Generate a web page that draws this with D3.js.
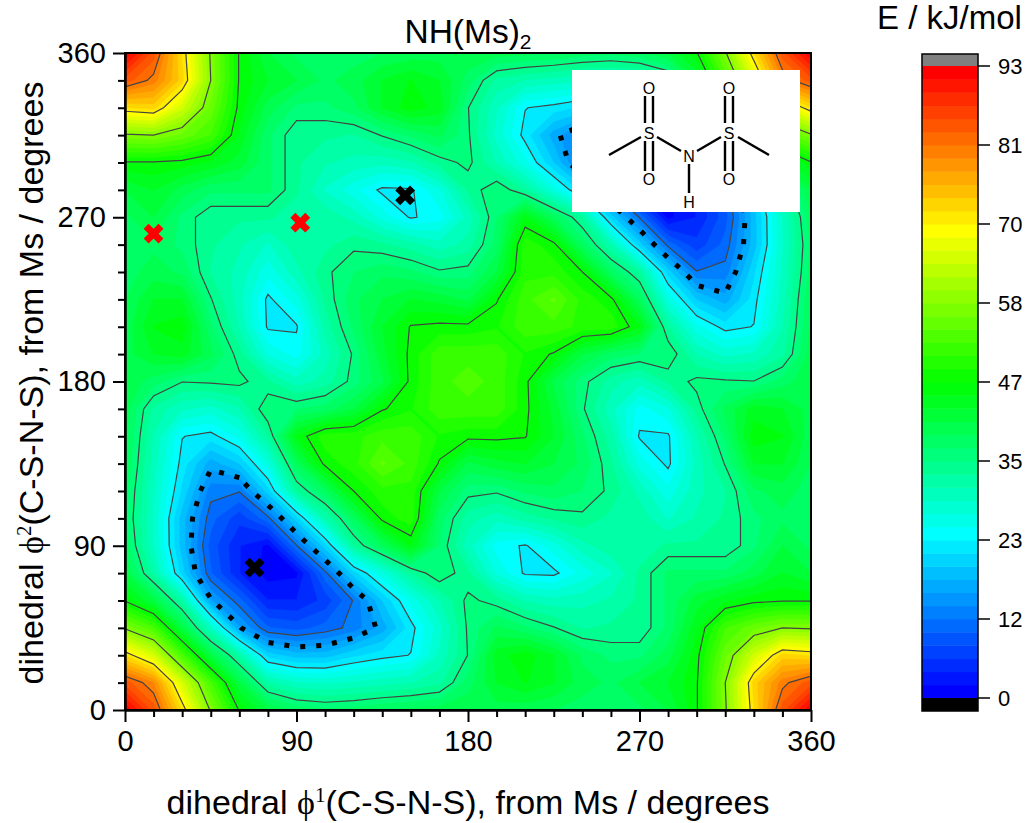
<!DOCTYPE html>
<html>
<head>
<meta charset="utf-8">
<title>NH(Ms)2</title>
<script src="https://cdnjs.cloudflare.com/ajax/libs/d3/7.8.5/d3.min.js"></script>
<style>
  html, body { margin: 0; padding: 0; background: #fff; }
  svg { display: block; font-family: "Liberation Sans", Arial, sans-serif; }
</style>
</head>
<body>
<svg id="chart" width="1028" height="823"></svg>
<script>
// energy in kJ/mol on a 15 degree grid, one row per phi2 (0..360), columns phi1 (0..360)
const energyRows = [
  [93.5,85,72,58,46.5,41,38.5,37.5,38,39,39.5,40,40.5,40,39.5,39,38,37.5,38.5,41,46.5,58,72,85,93.5],
  [85,80,65.5,53,41,32,29.3,29,29.5,30.3,31.1,32.5,38,43,45,43,40,38.5,41,43,46.5,58.5,73,81,85],
  [72,65.5,53,41,32,20.5,18.5,18.5,21,22.5,23.5,29.6,35.2,44,46,43,38.5,36.5,36.5,40,46,56,65,73,72],
  [58,53,41,29.5,16,10,9,10.5,12.5,16.5,22.5,28.5,35.5,39.5,37.5,35.3,33,33.5,33.5,37.5,44.5,52.5,56,58.5,58],
  [46.5,41,32,16,10.5,4,4,6.5,11.9,19.5,26,31,35.8,34,31,30,30.5,31.5,33.5,37.5,42,44.5,46,46.5,46.5],
  [41,32,20.5,10,4,1,1.5,11,20.5,27,33,37,33.5,27,23,22.8,26,29,33.5,37.5,37.5,37.5,40,43,41],
  [38.5,29.3,18.5,9,4,1.5,11.5,20.5,33,39,45,37,30,24.5,23.1,26.5,30.5,32.5,32,33.5,33.5,33.5,36.5,41,38.5],
  [37.5,29,18.5,10.5,6.5,11,20.5,31.2,38.5,47.5,50,38,32,30,32,33.5,34.5,32.5,32.5,29,31.5,33.5,36.5,38.5,37.5],
  [38,29.5,21,12.5,11.9,20.5,33,38.5,46.8,50,50,41,36,35.5,37.5,38.5,37,34.5,30.5,26,30.5,33,38.5,40,38],
  [39,30.3,22.5,16.5,19.5,27,39,47.5,50,55,52,46.5,40.5,42.2,43,41,38.5,33.5,26.5,22.8,30,35.3,43,43,39],
  [39.5,31.1,23.5,22.5,26,33,45,50,50,52,52,48.5,47.5,47.5,47,43,37.5,32,23.1,23,31,37.5,46,45,39.5],
  [40,32.5,29.6,28.5,31,37,37,38,41,46.5,48.5,52,52,52,47.5,42.2,35.5,30,24.5,27,34,39.5,44,43,40],
  [40.5,38,35.2,35.5,35.8,33.5,30,32,36,40.5,47.5,52,53.5,52,47.5,40.5,36,32,30,33.5,35.8,35.5,35.2,38,40.5],
  [40,43,44,39.5,34,27,24.5,30,35.5,42.2,47.5,52,52,52,48.5,46.5,41,38,37,37,31,28.5,29.6,32.5,40],
  [39.5,45,46,37.5,31,23,23.1,32,37.5,43,47,47.5,47.5,48.5,52,52,50,50,45,33,26,22.5,23.5,31.1,39.5],
  [39,43,43,35.3,30,22.8,26.5,33.5,38.5,41,43,42.2,40.5,46.5,52,55,50,47.5,39,27,19.5,16.5,22.5,30.3,39],
  [38,40,38.5,33,30.5,26,30.5,34.5,37,38.5,37.5,35.5,36,41,50,50,46.8,38.5,33,20.5,11.9,12.5,21,29.5,38],
  [37.5,38.5,36.5,33.5,31.5,29,32.5,32.5,34.5,33.5,32,30,32,38,50,47.5,38.5,31.2,20.5,11,6.5,10.5,18.5,29,37.5],
  [38.5,41,36.5,33.5,33.5,33.5,32,32.5,30.5,26.5,23.1,24.5,30,37,45,39,33,20.5,11.5,1.5,4,9,18.5,29.3,38.5],
  [41,43,40,37.5,37.5,37.5,33.5,29,26,22.8,23,27,33.5,37,33,27,20.5,11,1.5,1,4,10,20.5,32,41],
  [46.5,46.5,46,44.5,42,37.5,33.5,31.5,30.5,30,31,34,35.8,31,26,19.5,11.9,6.5,4,4,10.5,16,32,41,46.5],
  [58,58.5,56,52.5,44.5,37.5,33.5,33.5,33,35.3,37.5,39.5,35.5,28.5,22.5,16.5,12.5,10.5,9,10,16,29.5,41,53,58],
  [72,73,65,56,46,40,36.5,36.5,38.5,43,46,44,35.2,29.6,23.5,22.5,21,18.5,18.5,20.5,32,41,53,65.5,72],
  [85,81,73,58.5,46.5,43,41,38.5,40,43,45,43,38,32.5,31.1,30.3,29.5,29,29.3,32,41,53,65.5,80,85],
  [93.5,85,72,58,46.5,41,38.5,37.5,38,39,39.5,40,40.5,40,39.5,39,38,37.5,38.5,41,46.5,58,72,85,93.5]
];
const gridStep = 15;

const majorTicks = [0, 90, 180, 270, 360];
const minorTicks = [15, 30, 45, 60, 75, 105, 120, 135, 150, 165, 195, 210, 225, 240, 255, 285, 300, 315, 330, 345];

const bandStep = 1.95;
const bandCount = 48;
const lineLevels = [11.7, 23.4, 35.1, 46.8, 58.5, 70.2, 81.9];
const dottedLevel = 15.6;
const barTicks = [0, 11.7, 23.4, 35.1, 46.8, 58.5, 70.2, 81.9, 93.6];
const barLabels = ['0', '12', '23', '35', '47', '58', '70', '81', '93'];

const stopBands = [0, 12, 23.5, 35, 47];
const stopColors = ['#0000ff', '#00ffff', '#00ff00', '#ffff00', '#ff0000'];

const blackMarks = [[68, 78], [147, 282]];
const redMarks = [[15, 261], [92, 267]];

const svg = d3.select('#chart');
const x = d3.scaleLinear().domain([0, 360]).range([125, 811]);
const y = d3.scaleLinear().domain([0, 360]).range([710, 53]);
const bandColor = d3.scaleLinear().domain(stopBands).range(stopColors).interpolate(d3.interpolateRgb);

// grid cell centres sit at i + 0.5 in d3.contours
const path = d3.geoPath(d3.geoTransform({
  point(px, py) {
    this.stream.point(x((px - 0.5) * gridStep), y((py - 0.5) * gridStep));
  }
}));
const contours = d3.contours().size([energyRows[0].length, energyRows.length]);
const flatEnergy = energyRows.flat();

svg.append('clipPath').attr('id', 'plotClip').append('rect')
  .attr('x', 125).attr('y', 53).attr('width', 686).attr('height', 657);

const plot = svg.append('g').attr('clip-path', 'url(#plotClip)');

// filled bands, lowest first
plot.append('rect').attr('x', 125).attr('y', 53).attr('width', 686).attr('height', 657)
  .attr('fill', bandColor(0));
const bandLevels = d3.range(1, bandCount).map(i => i * bandStep);
plot.selectAll('path.band')
  .data(contours.thresholds(bandLevels)(flatEnergy))
  .enter().append('path')
  .attr('class', 'band')
  .attr('d', path)
  .attr('fill', (d, i) => bandColor(i + 1))
  .attr('stroke', (d, i) => bandColor(i + 1))
  .attr('stroke-width', 0.3);

// contour lines
plot.selectAll('path.level')
  .data(contours.thresholds(lineLevels)(flatEnergy))
  .enter().append('path')
  .attr('class', 'level')
  .attr('d', path)
  .attr('fill', 'none')
  .attr('stroke', '#444')
  .attr('stroke-width', 1.2);

plot.selectAll('path.dotted')
  .data(contours.thresholds([dottedLevel])(flatEnergy))
  .enter().append('path')
  .attr('class', 'dotted')
  .attr('d', path)
  .attr('fill', 'none')
  .attr('stroke', '#000')
  .attr('stroke-width', 5)
  .attr('stroke-dasharray', '5 11');

// molecule inset
const inset = svg.append('g');
inset.append('rect').attr('x', 572).attr('y', 70).attr('width', 228).attr('height', 142).attr('fill', '#fff');
const bonds = [
  [609, 155, 641, 137], [657, 137, 681, 151], [697, 151, 721, 137], [738, 137, 769, 155],
  [689, 164, 689, 193],
  [645, 96, 645, 123], [653, 96, 653, 123], [645, 141, 645, 171], [653, 141, 653, 171],
  [725, 96, 725, 123], [733, 96, 733, 123], [725, 141, 725, 171], [733, 141, 733, 171]
];
inset.selectAll('line').data(bonds).enter().append('line')
  .attr('x1', d => d[0]).attr('y1', d => d[1]).attr('x2', d => d[2]).attr('y2', d => d[3])
  .attr('stroke', '#000').attr('stroke-width', 2.4);
const atoms = [
  ['O', 649, 88], ['O', 729, 88], ['S', 649, 133], ['S', 729, 133], ['O', 649, 179], ['O', 729, 179],
  ['N', 689, 156], ['H', 689, 202]
];
inset.selectAll('text').data(atoms).enter().append('text')
  .attr('x', d => d[1]).attr('y', d => d[2])
  .attr('text-anchor', 'middle').attr('dy', '0.36em')
  .attr('font-size', 16).text(d => d[0]);

// minima markers
const cross = d3.symbol().type(d3.symbolCross).size(245);
svg.selectAll('path.mark')
  .data(blackMarks.map(d => [d, '#000']).concat(redMarks.map(d => [d, '#ff0000'])))
  .enter().append('path')
  .attr('class', 'mark')
  .attr('d', cross)
  .attr('transform', d => `translate(${x(d[0][0])},${y(d[0][1])}) rotate(45)`)
  .attr('fill', d => d[1]);

// axes
function styleAxis(g) {
  g.selectAll('path, line').attr('stroke', '#000').attr('stroke-width', 2);
  g.selectAll('text').attr('font-size', 29).attr('fill', '#000').attr('font-family', '"Liberation Sans", Arial, sans-serif');
}
const frame = svg.append('g');
frame.append('g').attr('transform', 'translate(0,710)')
  .call(d3.axisBottom(x).tickValues(minorTicks).tickSize(7).tickSizeOuter(0).tickFormat(''))
  .call(styleAxis);
frame.append('g').attr('transform', 'translate(0,710)')
  .call(d3.axisBottom(x).tickValues(majorTicks).tickSize(12).tickSizeOuter(0).tickPadding(8))
  .call(styleAxis);
frame.append('g').attr('transform', 'translate(125,0)')
  .call(d3.axisLeft(y).tickValues(minorTicks).tickSize(7).tickSizeOuter(0).tickFormat(''))
  .call(styleAxis);
frame.append('g').attr('transform', 'translate(125,0)')
  .call(d3.axisLeft(y).tickValues(majorTicks).tickSize(12).tickSizeOuter(0).tickPadding(7))
  .call(styleAxis);
frame.append('rect').attr('x', 125).attr('y', 53).attr('width', 686).attr('height', 657)
  .attr('fill', 'none').attr('stroke', '#000').attr('stroke-width', 2);

// titles
const title = svg.append('text').attr('x', 468).attr('y', 43).attr('text-anchor', 'middle').attr('font-size', 33.5);
title.append('tspan').text('NH(Ms)');
title.append('tspan').attr('font-size', 21).attr('dy', 6).text('2');

function axisTitle(sel, sup) {
  sel.append('tspan').text('dihedral ');
  sel.append('tspan').attr('font-family', '"Liberation Serif", serif').text('\u03d5');
  sel.append('tspan').attr('font-size', 21).attr('dy', -12).attr('font-family', '"Liberation Serif", serif').text(sup);
  sel.append('tspan').attr('dy', 12).text('(C-S-N-S), from Ms / degrees');
}
svg.append('text').attr('x', 468).attr('y', 814).attr('text-anchor', 'middle').attr('font-size', 34)
  .call(axisTitle, '1');
svg.append('text').attr('transform', 'translate(43,383) rotate(-90)').attr('text-anchor', 'middle').attr('font-size', 34)
  .call(axisTitle, '2');

// colour bar
const barScale = d3.scaleLinear().domain([0, 93.6]).range([698, 66]);
const bar = svg.append('g');
bar.selectAll('rect.band').data(d3.range(bandCount)).enter().append('rect')
  .attr('class', 'band')
  .attr('x', 922).attr('width', 56)
  .attr('y', i => barScale((i + 1) * bandStep))
  .attr('height', i => barScale(i * bandStep) - barScale((i + 1) * bandStep) + 0.5)
  .attr('fill', i => bandColor(i));
bar.append('rect').attr('x', 922).attr('y', 54).attr('width', 56).attr('height', 12).attr('fill', '#808080');
bar.append('rect').attr('x', 922).attr('y', 698).attr('width', 56).attr('height', 13).attr('fill', '#000');
bar.append('rect').attr('x', 922).attr('y', 54).attr('width', 56).attr('height', 657)
  .attr('fill', 'none').attr('stroke', '#000').attr('stroke-width', 1.5);
bar.selectAll('line').data(barTicks).enter().append('line')
  .attr('x1', 978).attr('x2', 990)
  .attr('y1', d => barScale(d)).attr('y2', d => barScale(d))
  .attr('stroke', '#000').attr('stroke-width', 1.5);
bar.selectAll('text').data(barTicks).enter().append('text')
  .attr('x', 998).attr('y', d => barScale(d)).attr('dy', '0.36em')
  .attr('font-size', 22).text((d, i) => barLabels[i]);
svg.append('text').attr('x', 877).attr('y', 29).attr('font-size', 33).text('E / kJ/mol');
</script>
</body>
</html>
